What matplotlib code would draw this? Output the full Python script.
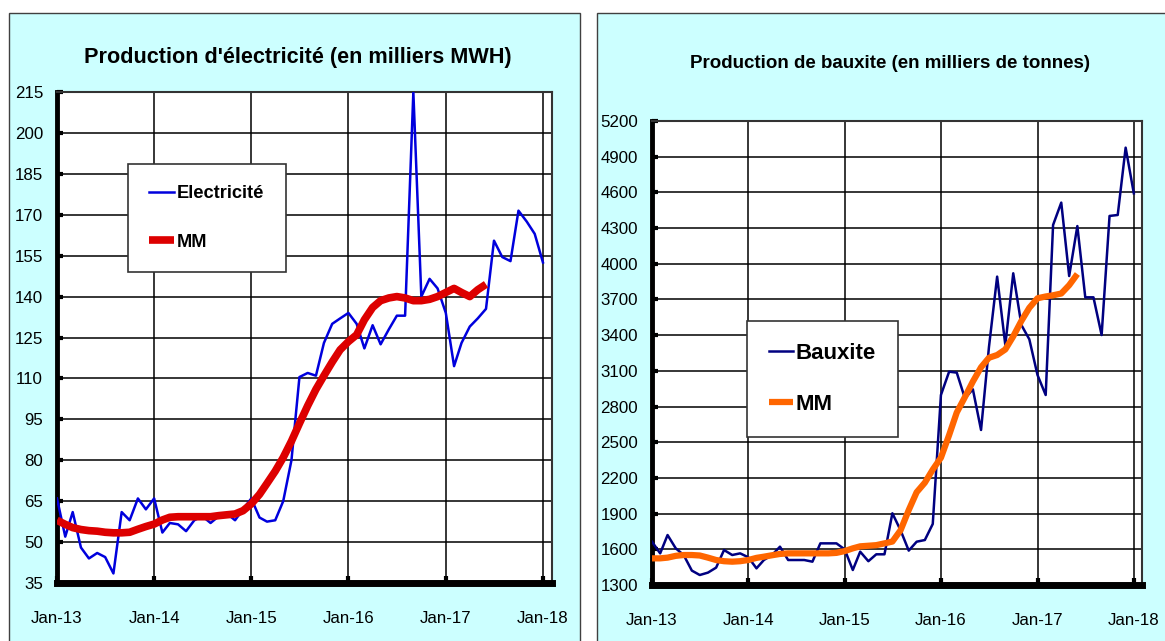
import numpy as np
import pandas as pd
import matplotlib
matplotlib.use("Agg")
import matplotlib.pyplot as plt
import matplotlib.dates as mdates
from matplotlib import font_manager
from matplotlib.patches import Rectangle

# police etroite si presente, sinon Liberation Sans
noms = {f.name for f in font_manager.fontManager.ttflist}
if 'Liberation Sans Narrow' in noms:
    plt.rcParams['font.family'] = ['Liberation Sans Narrow', 'DejaVu Sans']
    k = 1.0
else:
    plt.rcParams['font.family'] = ['Liberation Sans', 'DejaVu Sans']
    k = 0.82

# --- donnees mensuelles (Jan-13 .. Jan-18) ---
mois = pd.date_range('2013-01-01', '2018-01-01', freq='MS')

electricite = [66, 52, 61, 48, 44, 46, 44.5, 38.5, 61, 58,
               66, 62, 66, 53.5, 57, 56.5, 54, 58, 59.5, 57,
               59.5, 60.5, 58, 62, 66, 59, 57.5, 58, 65, 80,
               110.5, 112, 111, 123, 130, 132, 134, 130, 121, 129.5,
               122.5, 128, 133, 133, 215, 140, 146.5, 143, 134, 114.5,
               123, 129, 132, 135.5, 160.5, 154.5, 153, 171.5, 167.5, 163,
               152.5]
mm_elec = [58, 56.5, 55.3, 54.6, 54.2, 54.0, 53.6, 53.4, 53.4, 53.6,
           54.7, 55.7, 56.6, 58.1, 59.1, 59.3, 59.3, 59.3, 59.3, 59.3,
           59.7, 60, 60.3, 61.5, 64, 67.5, 71.5, 76, 81, 87,
           93.5, 100, 106, 111, 116, 120.5, 123.5, 126, 131.5, 136,
           138.5, 139.5, 140, 139.5, 138.5, 138.5, 139, 140, 141.5, 143,
           141.5, 140, 142.5, 144.5]

bauxite = [1664, 1566, 1720, 1608, 1552, 1421, 1384, 1404, 1446, 1594,
           1552, 1566, 1533, 1440, 1510, 1552, 1622, 1510, 1510, 1510,
           1496, 1650, 1650, 1650, 1600, 1426, 1580, 1500, 1558, 1558,
           1903, 1760, 1589, 1664, 1678, 1813, 2897, 3093, 3085, 2869,
           2945, 2603, 3300, 3892, 3317, 3920, 3485, 3365, 3065, 2897,
           4326, 4514, 3897, 4317, 3718, 3718, 3401, 4402, 4410, 4976,
           4592]
mm_baux = [1524, 1524, 1530, 1545, 1552, 1552, 1548, 1530, 1510, 1500,
           1496, 1500, 1510, 1528, 1538, 1550, 1561, 1566, 1566, 1566,
           1566, 1566, 1566, 1570, 1585, 1608, 1625, 1630, 1635, 1650,
           1665, 1760, 1930, 2080, 2160, 2270, 2370, 2560, 2750, 2880,
           3010, 3130, 3210, 3233, 3280, 3390, 3520, 3630, 3710, 3725,
           3735, 3750, 3820, 3914]

ticks_elec = np.arange(35, 216, 15)
ticks_baux = np.arange(1300, 5201, 300)
ticks_x = pd.date_range('2013-01-01', '2018-01-01', freq='YS')

W, H = 1165, 641
fig = plt.figure(figsize=(W / 100, H / 100), dpi=100)
fig.patch.set_facecolor('white')

# fonds des deux panneaux
for x0, x1 in [(9, 580), (597, 1175)]:
    fig.patches.append(Rectangle((x0 / W, -0.05), (x1 - x0) / W, 1.05 - 13 / H,
                                 transform=fig.transFigure, facecolor='#CCFFFF',
                                 edgecolor='#404040', lw=1, zorder=-5))


def style_axes(ax, yticks, xmax):
    ax.set_facecolor('white')
    ax.set_ylim(yticks[0], yticks[-1])
    ax.set_yticks(yticks)
    ax.set_xlim(pd.Timestamp('2013-01-01'), xmax)
    ax.set_xticks(ticks_x)
    ax.xaxis.set_major_formatter(mdates.DateFormatter('%b-%y'))
    ax.grid(True, color='black', lw=1.1)
    ax.set_axisbelow(True)
    ax.spines['left'].set_linewidth(3.5)
    ax.spines['bottom'].set_linewidth(5)
    for s in ['left', 'bottom']:
        ax.spines[s].set_color('black')
    for s in ['top', 'right']:
        ax.spines[s].set_linewidth(1.5)
        ax.spines[s].set_color('#333333')
    ax.tick_params(axis='y', direction='in', length=4, width=3, pad=10,
                   labelsize=14.8 * k)
    ax.tick_params(axis='x', direction='in', length=5, width=3, pad=20,
                   labelsize=14.8 * k)


# --- Electricite ---
ax1 = fig.add_axes([57 / W, 1 - 583 / H, 495 / W, 491 / H])
ax1.plot(mois, electricite, color='#0000DD', lw=1.8, label='Electricité', zorder=3)
ax1.plot(mois[:len(mm_elec)], mm_elec, color='#DD0000', lw=5.5, label='MM',
         solid_capstyle='butt', zorder=4)
style_axes(ax1, ticks_elec, pd.Timestamp('2018-02-04'))
leg1 = ax1.legend(loc='upper left', bbox_to_anchor=(128 / W, 1 - 164 / H),
                  bbox_transform=fig.transFigure, fancybox=False, framealpha=1,
                  edgecolor='#333333', prop={'weight': 'bold', 'size': 16 * k},
                  handlelength=1.4, handletextpad=0.15, labelspacing=1.75,
                  borderpad=1.15, borderaxespad=0)
leg1.get_frame().set_linewidth(1.2)
fig.text(298 / W, 1 - 57 / H, "Production d'électricité (en milliers MWH)",
         ha='center', va='center', fontsize=19 * k, fontweight='bold')

# --- Bauxite ---
ax2 = fig.add_axes([652 / W, 1 - 585 / H, 490 / W, 464 / H])
ax2.plot(mois, bauxite, color='#000080', lw=1.8, label='Bauxite', zorder=3)
ax2.plot(mois[:len(mm_baux)], mm_baux, color='#FF6600', lw=4.5, label='MM',
         solid_capstyle='butt', zorder=4)
style_axes(ax2, ticks_baux, pd.Timestamp('2018-02-01'))
leg2 = ax2.legend(loc='upper left', bbox_to_anchor=(747 / W, 1 - 321 / H),
                  bbox_transform=fig.transFigure, fancybox=False, framealpha=1,
                  edgecolor='#333333', prop={'weight': 'bold', 'size': 19.5 * k},
                  handlelength=1.05, handletextpad=0.12, labelspacing=1.35,
                  borderpad=1.0, borderaxespad=0)
leg2.get_frame().set_linewidth(1.2)
fig.text(890 / W, 1 - 63 / H, "Production de bauxite (en milliers de tonnes)",
         ha='center', va='center', fontsize=16.5 * k, fontweight='bold')

fig.savefig('out.png', dpi=100, facecolor=fig.get_facecolor())
